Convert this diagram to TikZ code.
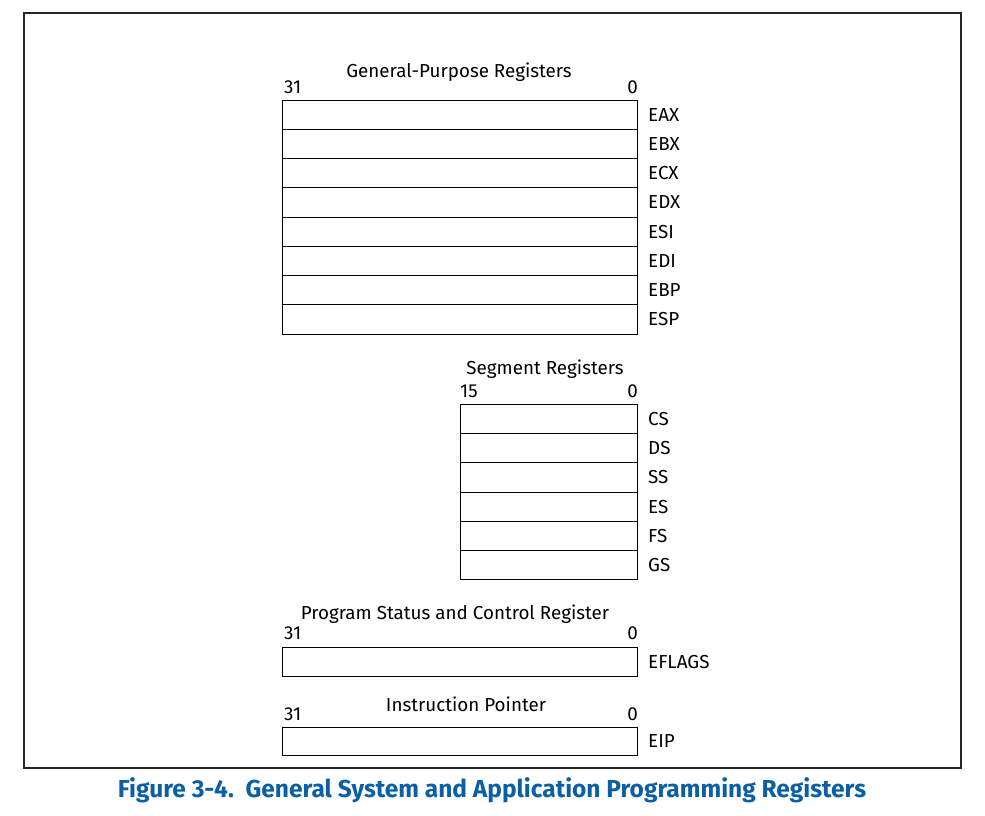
\documentclass[tikz,border=0pt]{standalone}
\usepackage{fontspec}
\setmainfont{Fira Sans}
\definecolor{capblue}{HTML}{0B5FA5}
\begin{document}
\begin{tikzpicture}[x=1pt,y=-1pt,
  reg/.style={draw, line width=0.8pt, inner sep=0pt, outer sep=0pt, minimum height=29.25pt},
  wide/.style={reg, minimum width=355pt},
  narrow/.style={reg, minimum width=177pt},
  txt/.style={inner sep=0pt, font=\fontsize{18.8}{20}\selectfont},
  rname/.style={txt, anchor=west},
  bit/.style={txt},
  title/.style={txt}]
\useasboundingbox (0,0) rectangle (985,815);
% outer frame
\draw[line width=1.3pt, black!85] (24,13) rectangle (961,768);

% general-purpose registers
\node[title] (gptitle) at (459,72) {General-Purpose Registers};
\node[bit, anchor=west] (gp31) at (284,87) {31};
\node[bit, anchor=east] (gp0) at (638,87) {0};
\foreach \r [count=\i from 0] in {EAX,EBX,ECX,EDX,ESI,EDI,EBP,ESP}{
  \node[wide, anchor=north west] (\r) at (282,100+29.25*\i) {};
  \node[rname] (\r-name) at ([xshift=11pt]\r.east) {\r};
}

% segment registers
\node[title] (sgtitle) at (545,369) {Segment Registers};
\node[bit, anchor=west] (sg15) at (460,391) {15};
\node[bit, anchor=east] (sg0) at (638,391) {0};
\foreach \r [count=\i from 0] in {CS,DS,SS,ES,FS,GS}{
  \node[narrow, anchor=north west, minimum height=29.3pt] (\r) at (460,404+29.3*\i) {};
  \node[rname] (\r-name) at ([xshift=11pt]\r.east) {\r};
}

% flags register
\node[title] (fltitle) at (455,614) {Program Status and Control Register};
\node[bit, anchor=west] (fl31) at (284,633) {31};
\node[bit, anchor=east] (fl0) at (638,633) {0};
\node[wide, anchor=north west] (EFLAGS) at (282,647) {};
\node[rname] (EFLAGS-name) at ([xshift=11pt]EFLAGS.east) {EFLAGS};

% instruction pointer
\node[title] (iptitle) at (466,704) {Instruction Pointer};
\node[bit, anchor=west] (ip31) at (284,714) {31};
\node[bit, anchor=east] (ip0) at (638,714) {0};
\node[wide, anchor=north west, minimum height=28.5pt] (EIP) at (282,727) {};
\node[rname] (EIP-name) at ([xshift=11pt]EIP.east) {EIP};

% caption
\node[inner sep=0pt, text=capblue, font=\fontsize{24.5}{26}\selectfont\bfseries] (caption) at (492,790)
  {Figure 3-4.\ \ General System and Application Programming Registers};
\end{tikzpicture}
\end{document}
